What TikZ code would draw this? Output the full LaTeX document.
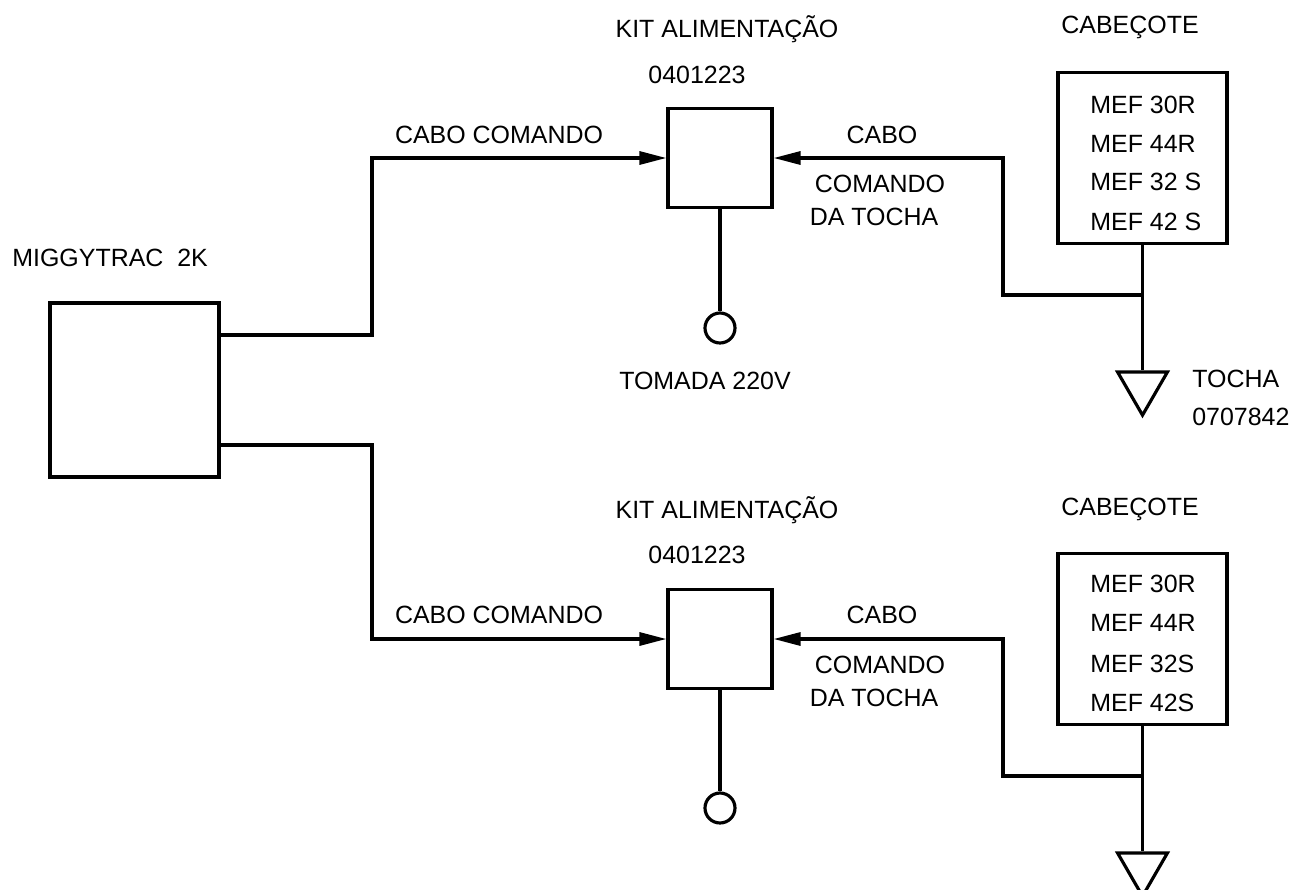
\documentclass[tikz,border=0pt]{standalone}
\usepackage{fontspec}
\setmainfont{Liberation Sans}
\usetikzlibrary{arrows.meta, shapes.geometric}

\begin{document}
\begin{tikzpicture}[
  x=0.2mm, y=-0.2mm,
  >={Triangle[length=5.4mm, width=2.6mm]},
  every node/.style={font=\fontsize{14.2}{17}\selectfont},
  box/.style={rectangle, draw=black, line width=1.8pt, inner sep=0pt},
  plug/.style={circle, draw=black, line width=1.8pt, minimum size=6mm, inner sep=0pt},
  torch/.style={regular polygon, regular polygon sides=3, shape border rotate=180,
    draw=black, line width=1.8pt, minimum size=11.5mm, inner sep=0pt},
  wire/.style={line width=1.8pt},
  lbl/.style={anchor=base, inner sep=0pt}
]
  \useasboundingbox (0,0) rectangle (1293,890);

  % boxes
  \node[box, minimum width=33.8mm, minimum height=34.8mm] (M) at (134.5,390) {};
  \node[box, minimum width=20.8mm, minimum height=19.8mm] (K1) at (720,158) {};
  \node[box, minimum width=20.8mm, minimum height=19.8mm] (K2) at (720,639) {};
  \node[box, minimum width=33.8mm, minimum height=34.2mm] (C1) at (1142.5,158) {};
  \node[box, minimum width=33.8mm, minimum height=34.2mm] (C2) at (1142.5,639) {};
  \node[plug] (S1) at (720,328) {};
  \node[plug] (S2) at (720,808) {};
  \node[torch] (T1) at (1142.5,386.4) {};
  \node[torch] (T2) at (1142.5,867.4) {};

  \coordinate (m1) at (219,335);
  \coordinate (m2) at (219,445);
  \coordinate (j1) at (1142.5,295);
  \coordinate (j2) at (1142.5,776);

  % cables
  \draw[wire, ->] (m1) -- ++(153,0) |- (K1.west);
  \draw[wire, ->] (m2) -- ++(153,0) |- (K2.west);
  \draw[wire] (K1.south) -- (S1.north);
  \draw[wire] (K2.south) -- (S2.north);
  \draw[wire] (C1.south) -- (T1.north);
  \draw[wire] (C2.south) -- (T2.north);
  \draw[wire, ->] (j1) -- ++(-139.5,0) |- (K1.east);
  \draw[wire, ->] (j2) -- ++(-139.5,0) |- (K2.east);

  % labels, upper
  \node[lbl, anchor=base west] (mt) at (12,266) {MIGGYTRAC\ \ 2K};
  \node[lbl] (k1t) at (727,37) {KIT ALIMENTAÇÃO};
  \node[lbl] (k1n) at (697,83) {0401223};
  \node[lbl] (c1t) at (1130,33) {CABEÇOTE};
  \node[lbl] (w1a) at (499,143) {CABO COMANDO};
  \node[lbl] (w1b) at (882,143) {CABO};
  \node[lbl] (w1c) at (880,192) {COMANDO};
  \node[lbl] (w1d) at (874,225) {DA TOCHA};
  \node[lbl] (s1t) at (705,389) {TOMADA 220V};
  \node[lbl, anchor=base west] (t1t) at (1192,387) {TOCHA};
  \node[lbl, anchor=base west] (t1n) at (1192,425) {0707842};
  \node[lbl, anchor=base west] (h1a) at (1090,113) {MEF 30R};
  \node[lbl, anchor=base west] (h1b) at (1090,152) {MEF 44R};
  \node[lbl, anchor=base west] (h1c) at (1090,190) {MEF 32 S};
  \node[lbl, anchor=base west] (h1d) at (1090,230) {MEF 42 S};

  % labels, lower
  \node[lbl] (k2t) at (727,518) {KIT ALIMENTAÇÃO};
  \node[lbl] (k2n) at (697,563) {0401223};
  \node[lbl] (c2t) at (1130,515) {CABEÇOTE};
  \node[lbl] (w2a) at (499,623) {CABO COMANDO};
  \node[lbl] (w2b) at (882,623) {CABO};
  \node[lbl] (w2c) at (880,673) {COMANDO};
  \node[lbl] (w2d) at (874,706) {DA TOCHA};
  \node[lbl, anchor=base west] (h2a) at (1090,592) {MEF 30R};
  \node[lbl, anchor=base west] (h2b) at (1090,631) {MEF 44R};
  \node[lbl, anchor=base west] (h2c) at (1090,672) {MEF 32S};
  \node[lbl, anchor=base west] (h2d) at (1090,711) {MEF 42S};
\end{tikzpicture}
\end{document}
